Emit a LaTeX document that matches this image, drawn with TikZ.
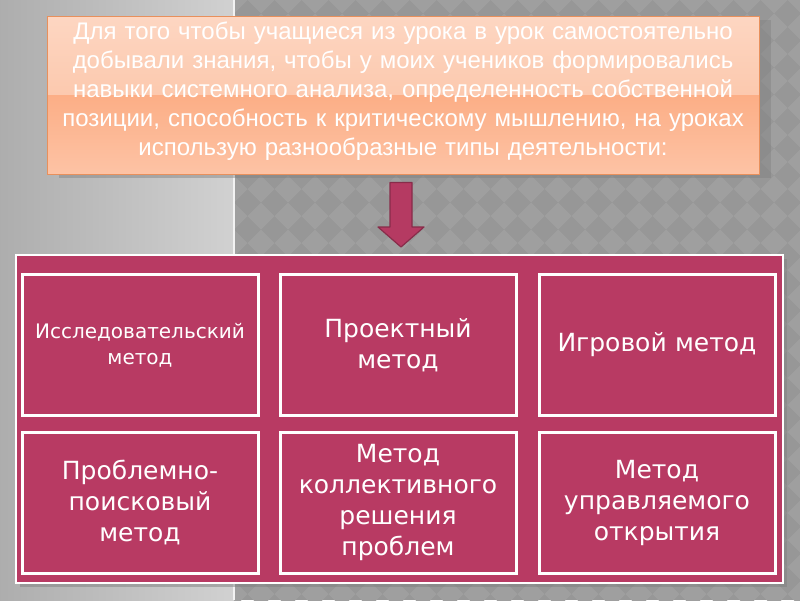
\documentclass[tikz,border=0pt]{standalone}
\usepackage{fontspec}
\setmainfont{DejaVu Sans}
\newfontfamily\headfont{Liberation Sans}
\usetikzlibrary{shadows,calc}

\definecolor{slidegrey}{HTML}{979797}
\definecolor{diamgrey}{HTML}{9F9F9F}
\definecolor{methodred}{HTML}{B83A63}
\definecolor{arrowred}{HTML}{B53A62}
\definecolor{introtop}{HTML}{FDD6C2}
\definecolor{intromid}{HTML}{FBBC9A}
\definecolor{introlow}{HTML}{FCAE86}
\definecolor{introbot}{HTML}{FDC3A5}
\definecolor{introline}{HTML}{E8905C}

\tikzset{
    introbox/.style={draw=introline, line width=1pt, minimum width=712pt, minimum height=158pt,
        text width=705pt, align=center, text=white, inner sep=0pt,
        font=\headfont\fontsize{24}{29}\selectfont,
        path picture={
            \shade[top color=introtop, bottom color=intromid]
                (path picture bounding box.north west) rectangle (path picture bounding box.east);
            \shade[top color=introlow, bottom color=introbot]
                (path picture bounding box.west) rectangle (path picture bounding box.south east);
        },
        drop shadow={shadow xshift=12pt, shadow yshift=-4pt, opacity=0.45}},
    panelbox/.style={draw=white, line width=2pt, fill=methodred, minimum width=767pt,
        minimum height=328pt, drop shadow={shadow xshift=4pt, shadow yshift=-4pt, opacity=0.5}},
    methodbox/.style={draw=white, line width=3pt, fill=methodred, minimum width=236pt,
        minimum height=141pt, text width=230pt, align=center, text=white, inner sep=0pt,
        font=\fontsize{25}{31}\selectfont},
    fatarrow/.style={fill=arrowred, draw=arrowred!75!black, line width=1.2pt, line join=round}
}

\begin{document}
\begin{tikzpicture}[x=1pt, y=-1pt]
    \useasboundingbox (0,0) rectangle (800,600);

    % Background
    \fill[slidegrey] (0,0) rectangle (800,600);
    \begin{scope}
        \clip (234,0) rectangle (800,600);
        \foreach \i in {0,...,21} {
            \foreach \j in {0,...,22} {
                \fill[diamgrey] (234+27*\i, 27*\j) +(13.5,0) -- +(0,13.5) -- +(-13.5,0) -- +(0,-13.5) -- cycle;
            }
        }
    \end{scope}
    \shade[left color=black!32, right color=black!18] (0,0) rectangle (234,600);
    \draw[white!90!gray, line width=1.5pt] (234,0) -- (234,600);

    % Intro text
    \node[introbox] (intro) at (403,95) {Для того чтобы учащиеся из урока в урок самостоятельно\\
        добывали знания, чтобы у моих учеников формировались\\
        навыки системного анализа, определенность собственной\\
        позиции, способность к критическому мышлению, на уроках\\
        использую разнообразные типы деятельности:\par\vspace*{8pt}};

    % Methods
    \node[panelbox] (panel) at (399.5,419) {};
    \node[methodbox, font=\fontsize{20}{26}\selectfont] (research) at (140,345) {Исследовательский\\метод};
    \node[methodbox] (project) at (398,345) {Проектный\\метод};
    \node[methodbox] (game) at (657,345) {Игровой метод};
    \node[methodbox] (problem) at (140,502.5) {Проблемно-\\поисковый\\метод};
    \node[methodbox] (collective) at (398,502.5) {Метод\\коллективного\\решения\\проблем};
    \node[methodbox] (discovery) at (657,502.5) {Метод\\управляемого\\открытия};

    % Arrow
    \coordinate (arrtop) at ([xshift=-2pt, yshift=-8pt]intro.south);
    \coordinate (arrtip) at ([yshift=7pt]arrtop |- panel.north);
    \filldraw[fatarrow] ($(arrtop)+(-11,0)$) -- ($(arrtop)+(11,0)$) -- ($(arrtip)+(11,-20)$)
        -- ($(arrtip)+(23,-20)$) -- (arrtip) -- ($(arrtip)+(-23,-20)$) -- ($(arrtip)+(-11,-20)$) -- cycle;
\end{tikzpicture}
\end{document}
